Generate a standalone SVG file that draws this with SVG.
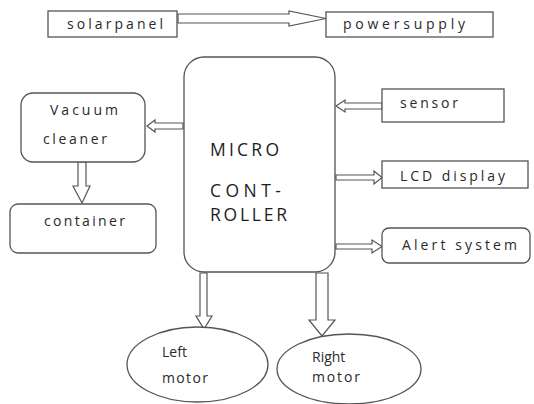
<svg xmlns="http://www.w3.org/2000/svg" width="534" height="404" viewBox="0 0 534 404">
<style>
.box{fill:#fff;stroke:#555;stroke-width:1.3}
.arr{fill:#fff;stroke:#555;stroke-width:1.2;stroke-linejoin:miter}
.t{font-family:"Open Sans","Liberation Sans",sans-serif;font-size:14px;fill:#2a2a2a}
.big{font-family:"Open Sans","Liberation Sans",sans-serif;font-size:17.5px;fill:#1e1e1e}
</style>
<rect width="534" height="404" fill="#fff"/>
<g id="connectors">
<polygon class="arr" points="178,14 289,14 289,11 326,18.5 289,26 289,23 178,23"/>
<polygon class="arr" points="183,123 155,123 155,120 147,126 155,132 155,129 183,129"/>
<polygon class="arr" points="78,162 86,162 86,186 90,186 82,203 73,186 78,186"/>
<polygon class="arr" points="382,103 345,103 345,100 336,106 345,112 345,109 382,109"/>
<polygon class="arr" points="336,175 374,175 374,171 382,177.5 374,184 374,180 336,180"/>
<polygon class="arr" points="336,244 372,244 372,240 382,246.5 372,253 372,249 336,249"/>
<polygon class="arr" points="200,273 207,273 207,316 212,316 204,329 196,316 200,316"/>
<polygon class="arr" points="316,273 328,273 328,320 335,320 322,336 309,320 316,320"/>
</g>
<g id="solarpanel">
<rect class="box" x="48" y="11" width="129" height="26"/>
<text class="t" x="67" y="29" textLength="96" lengthAdjust="spacing">solarpanel</text>
</g>
<g id="powersupply">
<rect class="box" x="326" y="12" width="167" height="25"/>
<text class="t" x="343" y="29" textLength="122" lengthAdjust="spacing">powersupply</text>
</g>
<g id="microcontroller">
<rect class="box" x="184" y="57" width="151" height="215" rx="20"/>
<text class="big" x="210" y="156" textLength="69" lengthAdjust="spacing">MICRO</text>
<text class="big" x="210" y="197" textLength="71" lengthAdjust="spacing">CONT-</text>
<text class="big" x="210" y="221" textLength="77" lengthAdjust="spacing">ROLLER</text>
</g>
<g id="vacuum">
<rect class="box" x="21" y="93" width="124" height="69" rx="12"/>
<text class="t" x="50" y="115" textLength="68" lengthAdjust="spacing">Vacuum</text>
<text class="t" x="43" y="144" textLength="64" lengthAdjust="spacing">cleaner</text>
</g>
<g id="container">
<rect class="box" x="10" y="204" width="146" height="49" rx="8"/>
<text class="t" x="44" y="226" textLength="81" lengthAdjust="spacing">container</text>
</g>
<g id="sensor">
<rect class="box" x="382" y="89" width="122" height="33"/>
<text class="t" x="400" y="108" textLength="58" lengthAdjust="spacing">sensor</text>
</g>
<g id="lcd">
<rect class="box" x="382" y="161" width="146" height="27"/>
<text class="t" x="400" y="181" textLength="105" lengthAdjust="spacing">LCD display</text>
</g>
<g id="alert">
<rect class="box" x="382" y="228" width="148" height="35" rx="7"/>
<text class="t" x="402" y="250" textLength="115" lengthAdjust="spacing">Alert system</text>
</g>
<g id="leftmotor">
<ellipse class="box" cx="197.5" cy="364.5" rx="70.5" ry="37.5"/>
<text class="t" x="162" y="357">Left</text>
<text class="t" x="162" y="383" textLength="46" lengthAdjust="spacing">motor</text>
</g>
<g id="rightmotor">
<ellipse class="box" cx="349" cy="369" rx="72" ry="35"/>
<text class="t" x="312" y="362">Right</text>
<text class="t" x="312" y="382" textLength="48" lengthAdjust="spacing">motor</text>
</g>
</svg>
